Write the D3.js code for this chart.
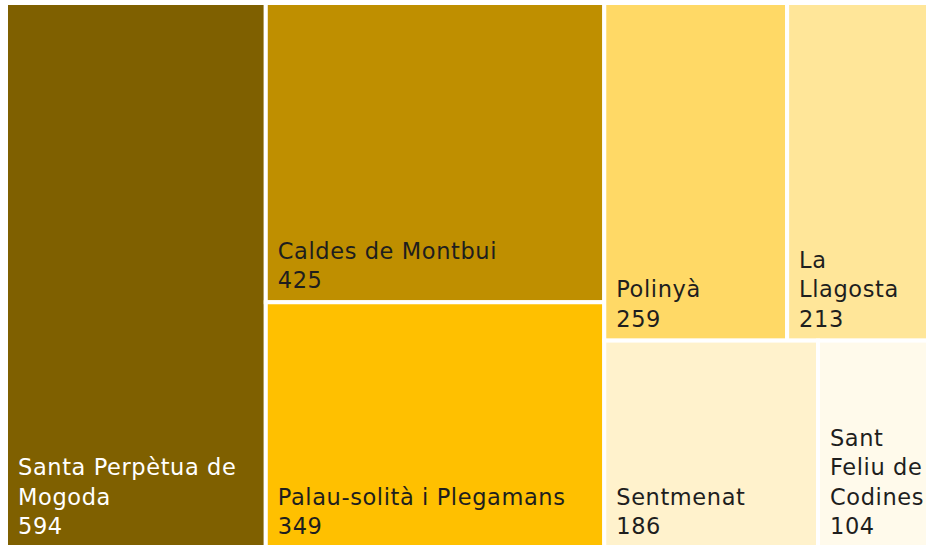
<!DOCTYPE html>
<html><head><meta charset="utf-8">
<script src="https://cdn.jsdelivr.net/npm/d3@7"></script>
<style>html,body{margin:0;padding:0;background:#fff;overflow:hidden}</style>
</head><body>
<svg id="chart" width="926" height="545"></svg>
<script>
// Data
const categories = ["Santa Perpètua de Mogoda", "Caldes de Montbui", "Palau-solità i Plegamans", "Polinyà", "La Llagosta", "Sentmenat", "Sant Feliu de Codines"];
const values = [594, 425, 349, 259, 213, 186, 104];
const labelLines = [["Santa Perpètua de", "Mogoda"], ["Caldes de Montbui"], ["Palau-solità i Plegamans"], ["Polinyà"], ["La", "Llagosta"], ["Sentmenat"], ["Sant", "Feliu de", "Codines"]];
const colors = ["#7F6000", "#BF8F00", "#FFC000", "#FFD966", "#FFE699", "#FFF2CC", "#FFFAEB"];
const textColors = ["#ffffff", "#1e1e1e", "#1e1e1e", "#1e1e1e", "#1e1e1e", "#1e1e1e", "#1e1e1e"];
// grouping of the layout (column / row structure)
const groups = [[0], [1, 2], [[3, 4], [5, 6]]];

const leaf = i => ({ idx: i, name: categories[i], value: values[i] });
function build(g) {
  if (typeof g === "number") return leaf(g);
  return { children: g.map(build) };
}
const rootData = { children: groups.map(g => (g.length === 1 && typeof g[0] === "number") ? leaf(g[0]) : build(g)) };

const root = d3.hierarchy(rootData).sum(d => d.value || 0);
d3.treemap().tile(d3.treemapSliceDice).size([931.5, 545])(root);

const svg = d3.select("#chart");
const plot = svg.append("g").attr("transform", "translate(6,3)");
const leaves = root.leaves();
const cell = plot.selectAll("g.cell").data(leaves).join("g").attr("class", "cell");
cell.append("rect")
  .attr("x", d => d.x0).attr("y", d => d.y0)
  .attr("width", d => d.x1 - d.x0).attr("height", d => d.y1 - d.y0)
  .attr("fill", d => colors[d.data.idx])
  .attr("stroke", "#fff").attr("stroke-width", 4);

const lineH = 29.3;
cell.each(function(d) {
  const i = d.data.idx;
  const lines = labelLines[i].concat([String(values[i])]);
  const g = d3.select(this);
  const baseY = d.y1 - 14;
  lines.forEach((t, k) => {
    g.append("text")
      .attr("x", d.x0 + 12)
      .attr("y", baseY - (lines.length - 1 - k) * lineH)
      .attr("fill", textColors[i])
      .style("font-family", "'DejaVu Sans', sans-serif")
      .style("font-size", "22.5px")
      .style("letter-spacing", "0.6px")
      .text(t);
  });
});
</script>
</body></html>
